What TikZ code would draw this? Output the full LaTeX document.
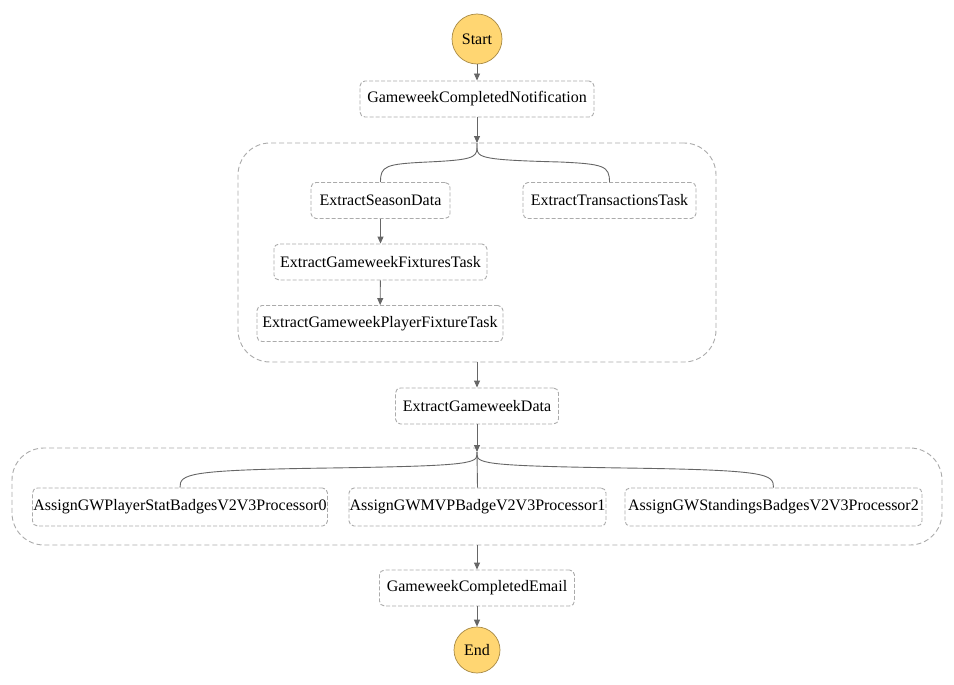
\documentclass[tikz,border=0pt]{standalone}
\usepackage{fontspec}
\setmainfont{Liberation Serif}
\usetikzlibrary{arrows.meta}
\definecolor{stateyellow}{HTML}{FFD672}
\definecolor{stateedge}{HTML}{A88A45}
\definecolor{boxedge}{HTML}{ABABAB}
\definecolor{flow}{HTML}{666666}
\tikzset{
  stepbox/.style={draw=boxedge, dash pattern=on 4pt off 2pt, rounded corners=5pt,
    line width=0.9pt, minimum height=36pt, inner sep=0pt, fill=white,
    font=\fontsize{16}{18}\selectfont},
  terminal/.style={circle, draw=stateedge, fill=stateyellow, line width=0.7pt,
    inner sep=0pt, font=\fontsize{16}{18}\selectfont},
  group/.style={draw=boxedge, dash pattern=on 5pt off 3pt, rounded corners=32pt,
    line width=0.9pt, inner sep=0pt},
  flowline/.style={draw=flow, line width=0.9pt},
  flowarrow/.style={flowline, -{Triangle[length=7pt,width=6pt]}},
}
\begin{document}
\begin{tikzpicture}[x=1pt,y=-1pt]
\useasboundingbox (0,0) rectangle (954,685);
\fill[white] (0,0) rectangle (954,685);

% parallel groups
\node[group, minimum width=478pt, minimum height=219pt] (par1) at (477,252.5) {};
\node[group, minimum width=930pt, minimum height=97pt] (par2) at (477,496.5) {};

% start / end states
\node[terminal, minimum size=50pt] (start) at (477,39) {Start};
\node[terminal, minimum size=46pt] (end) at (477,650) {End};

% task states
\node[stepbox, minimum width=234pt] (notif) at (477,99) {GameweekCompletedNotification};
\node[stepbox, minimum width=139pt] (season) at (380.5,200.5) {ExtractSeasonData};
\node[stepbox, minimum width=173pt] (trans) at (609.5,200.5) {ExtractTransactionsTask};
\node[stepbox, minimum width=213pt] (fixt) at (380.5,262) {ExtractGameweekFixturesTask};
\node[stepbox, minimum width=246pt] (player) at (380,323.5) {ExtractGameweekPlayerFixtureTask};
\node[stepbox, minimum width=163pt] (gwdata) at (477,406) {ExtractGameweekData};
\node[stepbox, minimum width=295pt, minimum height=38pt] (badge0) at (180,507) {AssignGWPlayerStatBadgesV2V3Processor0};
\node[stepbox, minimum width=257pt, minimum height=38pt] (badge1) at (477.5,507) {AssignGWMVPBadgeV2V3Processor1};
\node[stepbox, minimum width=297pt, minimum height=38pt] (badge2) at (773.5,507) {AssignGWStandingsBadgesV2V3Processor2};
\node[stepbox, minimum width=195pt] (email) at (477,588) {GameweekCompletedEmail};

% fork points inside the groups
\coordinate (fork1) at (477,143);
\coordinate (fork2) at (477,452);

% main flow
\draw[flowarrow] (start) -- (notif);
\draw[flowarrow] (notif.south) -- (fork1);
\draw[flowarrow] (season) -- (fixt);
\draw[flowarrow] (fixt) -- (player);
\draw[flowarrow] (par1.south) -- (gwdata.north);
\draw[flowarrow] (gwdata.south) -- (fork2);
\draw[flowarrow] (par2.south) -- (email.north);
\draw[flowarrow] (email) -- (end);

% branches of the first parallel group
\draw[flowline] (fork1) -- (477,148)
  .. controls (477,158) and (470,160) .. (428,162)
  .. controls (385,164) and (380.5,166) .. (season.north);
\draw[flowline] (fork1) -- (477,148)
  .. controls (477,158) and (484,160) .. (560,162)
  .. controls (604,164) and (609.5,166) .. (trans.north);

% branches of the second parallel group
\draw[flowline] (fork2) -- (477,455)
  .. controls (477,464) and (460,466) .. (330,468)
  .. controls (186,470) and (180,474) .. (badge0.north);
\draw[flowline] (fork2) -- (badge1.north);
\draw[flowline] (fork2) -- (477,455)
  .. controls (477,464) and (494,466) .. (624,468)
  .. controls (768,470) and (773.5,474) .. (badge2.north);
\end{tikzpicture}
\end{document}
